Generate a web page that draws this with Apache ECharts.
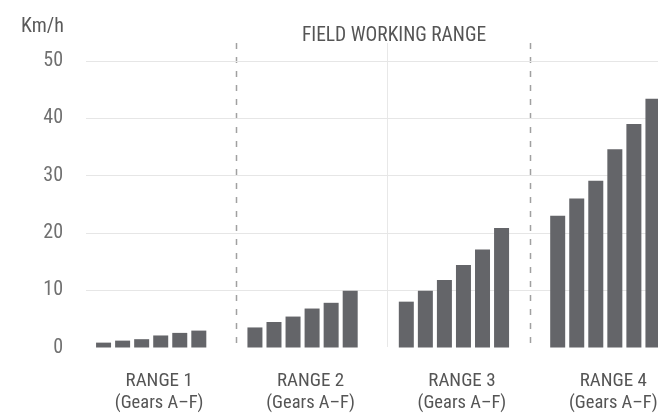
<!DOCTYPE html>
<html>
<head>
<meta charset="utf-8">
<script src="https://cdn.jsdelivr.net/npm/echarts@6/dist/echarts.min.js"></script>
<style>
html,body{margin:0;padding:0;background:#fff;}
#chart{width:658px;height:414px;}
</style>
</head>
<body>
<div id="chart"></div>
<script>
// Data
const ranges = ['RANGE 1', 'RANGE 2', 'RANGE 3', 'RANGE 4'];
const rangeSub = '(Gears A–F)';
const gears = ['A', 'B', 'C', 'D', 'E', 'F'];
const gearA = [0.85, 3.5, 8.0, 23.0];
const gearB = [1.2, 4.45, 9.9, 26.0];
const gearC = [1.45, 5.4, 11.8, 29.1];
const gearD = [2.1, 6.8, 14.4, 34.6];
const gearE = [2.55, 7.8, 17.1, 39.0];
const gearF = [2.95, 9.9, 20.85, 43.4];
const yTicks = [0, 10, 20, 30, 40, 50];
const unitLabel = 'Km/h';
const headerLabel = 'FIELD WORKING RANGE';

const gearValues = [gearA, gearB, gearC, gearD, gearE, gearF];
const FONT = "'Liberation Sans Narrow','Arial Narrow','Roboto Condensed',Roboto,sans-serif";
const BAR = '#646569';

const chart = echarts.init(document.getElementById('chart'), null, {renderer: 'canvas'});

const gridTop = 61, gridBottom = 66.5;

const option = {
  animation: false,
  backgroundColor: '#ffffff',
  title: [
    {text: unitLabel, left: 21, top: 17, padding: 0,
     textStyle: {fontFamily: FONT, fontSize: 20, fontWeight: 'normal', color: '#5a5a5a'}},
    {text: headerLabel, left: 394, top: 26, padding: 0, textAlign: 'center',
     textStyle: {fontFamily: FONT, fontSize: 19.5, fontWeight: 'normal', color: '#555555'}}
  ],
  grid: [
    {left: 75.5, right: -23, top: gridTop, bottom: gridBottom, outerBoundsMode: 'none', containLabel: false},
    {left: 86, right: 0, top: gridTop, bottom: gridBottom, outerBoundsMode: 'none', containLabel: false}
  ],
  xAxis: [
    {type: 'category', gridIndex: 0, data: ranges,
     axisLine: {show: false}, axisTick: {show: false}, splitLine: {show: false},
     axisLabel: {
       margin: 23, interval: 0, padding: [0, 0, 0, 16],
       formatter: v => '{a|' + v + '}\n{b|' + rangeSub + '}',
       rich: {
         a: {fontFamily: FONT, fontSize: 19, lineHeight: 22, color: '#555555'},
         b: {fontFamily: FONT, fontSize: 18.5, lineHeight: 22, color: '#555555'}
       }
     }},
    {type: 'value', gridIndex: 1, min: 0, max: 1, show: false}
  ],
  yAxis: [
    {type: 'value', gridIndex: 0, min: 0, max: 50, interval: 10, show: false},
    {type: 'value', gridIndex: 1, min: yTicks[0], max: yTicks[yTicks.length - 1], interval: 10,
     axisLine: {show: false}, axisTick: {show: false},
     axisLabel: {margin: 23, fontFamily: FONT, fontSize: 20, color: '#707070'},
     splitLine: {show: true, lineStyle: {width: 1,
       color: yTicks.map((t, i) => i === 0 ? 'rgba(0,0,0,0)' : '#e6e6e6')}}}
  ],
  graphic: [
    {type: 'line', shape: {x1: 387.5, y1: 43, x2: 387.5, y2: 347}, style: {stroke: '#e8e8e8', lineWidth: 1}, z: 0},
    {type: 'line', shape: {x1: 236.5, y1: 43, x2: 236.5, y2: 347}, style: {stroke: '#a0a0a0', lineWidth: 1.5, lineDash: [6, 8]}, z: 0},
    {type: 'line', shape: {x1: 530.5, y1: 43, x2: 530.5, y2: 347}, style: {stroke: '#a0a0a0', lineWidth: 1.5, lineDash: [6, 8]}, z: 0}
  ],
  series: gearValues.map((vals, i) => ({
    name: 'Gear ' + gears[i],
    type: 'bar',
    xAxisIndex: 0, yAxisIndex: 0,
    data: vals,
    barWidth: 15,
    barGap: '27%',
    itemStyle: {color: BAR},
    clip: false
  }))
};

chart.setOption(option);
</script>
</body>
</html>
